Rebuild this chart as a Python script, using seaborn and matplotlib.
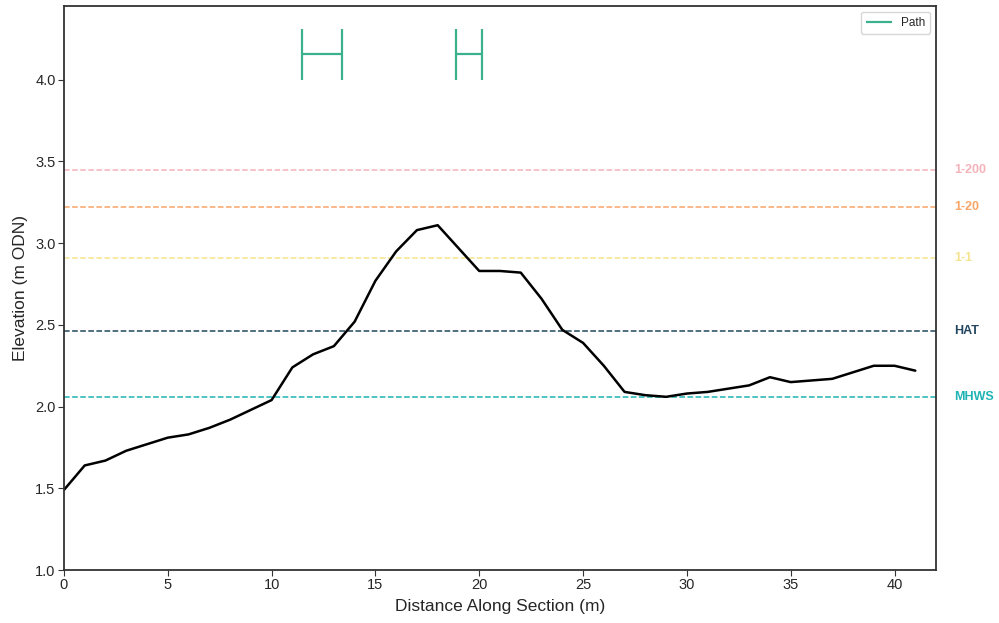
import matplotlib
matplotlib.use("Agg")
import matplotlib.pyplot as plt
import matplotlib.transforms as mtransforms
import seaborn as sns
import pandas as pd

# Ground profile along the section
distance = list(range(42))
elevation = [1.49, 1.64, 1.67, 1.73, 1.77, 1.81, 1.83, 1.87, 1.92, 1.98,
             2.04, 2.24, 2.32, 2.37, 2.52, 2.77, 2.95, 3.08, 3.11, 2.97,
             2.83, 2.83, 2.82, 2.66, 2.47, 2.39, 2.25, 2.09, 2.07, 2.06,
             2.08, 2.09, 2.11, 2.13, 2.18, 2.15, 2.16, 2.17, 2.21, 2.25,
             2.25, 2.22]

# Reference water levels
level_names = ["1-200", "1-20", "1-1", "HAT", "MHWS"]
level_values = [3.45, 3.22, 2.91, 2.46, 2.06]
level_colors = ["#f0a0a8", "#f7a060", "#f3e07c", "#22465f", "#1fb3b3"]
level_alpha = [0.8, 0.95, 0.85, 1.0, 1.0]

# Path crossings (start, end) along the section
path_start = [11.45, 18.9]
path_end = [13.4, 20.15]
path_level = 4.155
path_half_height = 0.155
path_color = "#3bb08c"

sns.set_style("ticks")
plt.rcParams["font.family"] = ["Liberation Sans", "DejaVu Sans"]

fig = plt.figure(figsize=(9.99, 6.23), dpi=100)
ax = fig.add_axes([0.064, 0.085, 0.873, 0.905])

profile = pd.DataFrame({"Distance": distance, "Elevation": elevation})
sns.lineplot(data=profile, x="Distance", y="Elevation", color="black",
             linewidth=1.8, ax=ax)

label_tf = mtransforms.blended_transform_factory(ax.transAxes, ax.transData)
for name, val, col, a in zip(level_names, level_values, level_colors, level_alpha):
    ax.axhline(val, color=col, linestyle="--", linewidth=1.1, alpha=a, zorder=1)
    ax.text(1.021, val, name, transform=label_tf, color=col, fontsize=9,
            fontweight="bold", va="center", ha="left", alpha=a)

ax.hlines([path_level] * len(path_start), path_start, path_end,
          color=path_color, linewidth=1.6, label="Path")
for s, e in zip(path_start, path_end):
    ax.vlines([s, e], path_level - path_half_height, path_level + path_half_height,
              color=path_color, linewidth=1.6)

ax.set_xlim(0, 42)
ax.set_ylim(1.0, 4.45)
ax.set_xticks([0, 5, 10, 15, 20, 25, 30, 35, 40])
ax.set_yticks([1.0, 1.5, 2.0, 2.5, 3.0, 3.5, 4.0])
ax.tick_params(labelsize=10.5, length=4, color="#333333", pad=2)
ax.set_xlabel("Distance Along Section (m)", fontsize=12.5, labelpad=5)
ax.set_ylabel("Elevation (m ODN)", fontsize=12.5, labelpad=5)
for sp in ax.spines.values():
    sp.set_visible(True)
    sp.set_color("#333333")
    sp.set_linewidth(1.3)

ax.legend(loc="upper right", fontsize=8.5, frameon=True, handlelength=2.2)

fig.savefig("out.png", dpi=100)
